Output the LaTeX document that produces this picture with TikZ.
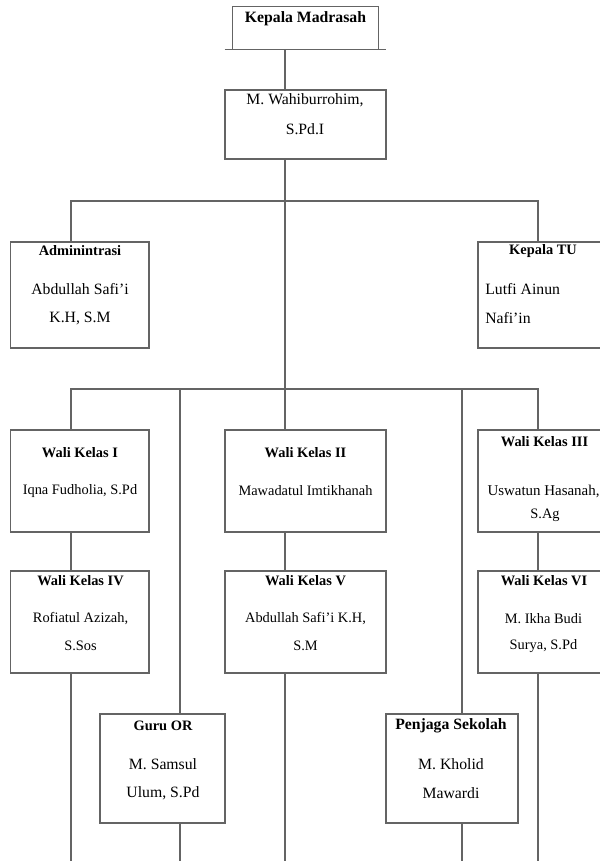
\documentclass[tikz,border=0pt]{standalone}
\usepackage{fontspec}
\setmainfont{Liberation Serif}
\begin{document}
\begin{tikzpicture}[x=0.75pt,y=-0.75pt,
  line/.style={draw={rgb,255:red,100;green,100;blue,100},line width=0.9pt},
  box/.style={line,fill=white,inner sep=0pt,minimum height=76.5pt},
  ttl/.style={inner sep=0pt,font=\fontsize{10.8}{13}\selectfont\bfseries},
  ttlL/.style={inner sep=0pt,font=\fontsize{11.8}{14}\selectfont\bfseries},
  txt/.style={inner sep=0pt,font=\fontsize{10.8}{13}\selectfont},
  txtL/.style={inner sep=0pt,font=\fontsize{11.8}{14}\selectfont}]
\useasboundingbox (0,0) rectangle (600,861);
\clip (0,0) rectangle (600,861);
% axis coordinates
\coordinate (xa) at (71,0);
\coordinate (xb) at (180,0);
\coordinate (xc) at (285,0);
\coordinate (xd) at (462,0);
\coordinate (xe) at (538,0);
\coordinate (ha) at (0,201);
\coordinate (hb) at (0,389);
\coordinate (bot) at (0,861);
% boxes
\node[inner sep=0pt,minimum width=108.75pt,minimum height=31.5pt] (km) at (305.5,28) {};
\node[box,minimum width=120.75pt,minimum height=51.75pt] (wah) at (305.5,124.5) {};
\node[box,minimum width=103.7pt,minimum height=79.5pt] (adm) at (79.85,295) {};
\node[box,minimum width=97.5pt,minimum height=79.5pt] (ktu) at (543,295) {};
\node[box,minimum width=103.7pt] (wk1) at (79.85,481) {};
\node[box,minimum width=120.75pt] (wk2) at (305.5,481) {};
\node[box,minimum width=97.5pt] (wk3) at (543,481) {};
\node[box,minimum width=103.7pt] (wk4) at (79.85,622) {};
\node[box,minimum width=120.75pt] (wk5) at (305.5,622) {};
\node[box,minimum width=97.5pt] (wk6) at (543,622) {};
\node[box,minimum width=93.75pt,minimum height=81.75pt] (guru) at (162.5,768.5) {};
\node[box,minimum width=99pt,minimum height=81.75pt] (penj) at (452,768.5) {};
% Kepala Madrasah open box
\draw[line] ([xshift=-6pt]km.south west) -- ([xshift=6pt]km.south east);
\draw[line] (km.south west) -- (km.north west) -- (km.north east) -- (km.south east);
% connectors
\draw[line] (xc |- km.south) -- (xc |- wah.north);
\draw[line] (xc |- wah.south) -- (xc |- wk2.north);
\draw[line] (xa |- adm.north) -- (xa |- ha) -- (xe |- ha) -- (xe |- ktu.north);
\draw[line] (xa |- wk1.north) -- (xa |- hb) -- (xe |- hb) -- (xe |- wk3.north);
\draw[line] (xb |- hb) -- (xb |- guru.north);
\draw[line] (xd |- hb) -- (xd |- penj.north);
\draw[line] (xa |- wk1.south) -- (xa |- wk4.north);
\draw[line] (xc |- wk2.south) -- (xc |- wk5.north);
\draw[line] (xe |- wk3.south) -- (xe |- wk6.north);
\coordinate (ea) at (xa |- bot);
\coordinate (eb) at (xb |- bot);
\coordinate (ec) at (xc |- bot);
\coordinate (ed) at (xd |- bot);
\coordinate (ee) at (xe |- bot);
\draw[line] (xa |- wk4.south) -- (ea);
\draw[line] (xc |- wk5.south) -- (ec);
\draw[line] (xe |- wk6.south) -- (ee);
\draw[line] (xb |- guru.south) -- (eb);
\draw[line] (xd |- penj.south) -- (ed);
% texts
\node[ttlL] (t1) at (305.5,19) {Kepala Madrasah};
\node[txtL] (t2) at (305,100) {M. Wahiburrohim,};
\node[txtL] (t3) at (305,129) {S.Pd.I};
\node[ttl] (t4) at (80,251) {Adminintrasi};
\node[txtL] (t5) at (80,289) {Abdullah Safi'i};
\node[txtL] (t6) at (80,318) {K.H, S.M};
\node[ttl] (t7) at (543,251) {Kepala TU};
\node[txtL,anchor=west] (t8) at (485,289) {Lutfi Ainun};
\node[txtL,anchor=west] (t9) at (485,318) {Nafi'in};
\node[ttl] (t10) at (80,453) {Wali Kelas I};
\node[txt] (t11) at (80,491) {Iqna Fudholia, S.Pd};
\node[ttl] (t12) at (305.5,453) {Wali Kelas II};
\node[txt] (t13) at (305.5,491) {Mawadatul Imtikhanah};
\node[ttl] (t14) at (544.5,442) {Wali Kelas III};
\node[fill=none,inner sep=0pt,font=\fontsize{11.2}{13}\selectfont] (t15) at (543.5,491) {Uswatun Hasanah,};
\node[txt] (t16) at (545,515) {S.Ag};
\node[ttl] (t17) at (80.5,581) {Wali Kelas IV};
\node[txt] (t18) at (80.5,619) {Rofiatul Azizah,};
\node[txt] (t19) at (80.5,646) {S.Sos};
\node[ttl] (t20) at (305.5,581) {Wali Kelas V};
\node[txt] (t21) at (305.5,619) {Abdullah Safi'i K.H,};
\node[txt] (t22) at (305.5,646) {S.M};
\node[ttl] (t23) at (544,581) {Wali Kelas VI};
\node[txt] (t24) at (543.5,619) {M. Ikha Budi};
\node[txt] (t25) at (543.5,646) {Surya, S.Pd};
\node[ttl] (t26) at (163,726) {Guru OR};
\node[txtL] (t27) at (163,764) {M. Samsul};
\node[txtL] (t28) at (163,793) {Ulum, S.Pd};
\node[ttlL] (t29) at (451,726) {Penjaga Sekolah};
\node[txtL] (t30) at (451,764) {M. Kholid};
\node[txtL] (t31) at (451,793) {Mawardi};
\end{tikzpicture}
\end{document}
